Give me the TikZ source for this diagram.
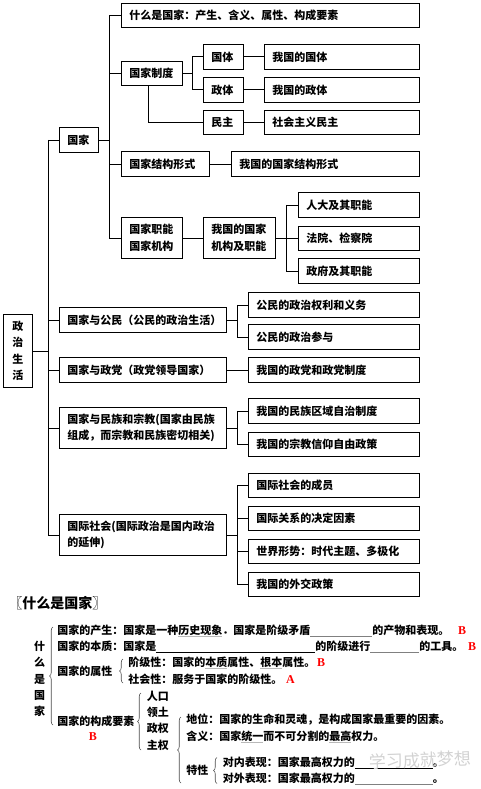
\documentclass[tikz,border=0pt]{standalone}
\usepackage{fontspec}
\newfontfamily\cjk{Noto Sans CJK SC}
\newfontfamily\lserif{Liberation Serif}
\usetikzlibrary{decorations.pathreplacing}
\newcommand\grayul[1]{\setbox0\hbox{#1}\rlap{\color{gray!55}\rule[-2.5pt]{\wd0}{0.7pt}}\box0}
\newcommand\blankln[2]{\rlap{\color{#2}\rule[-2.5pt]{#1}{0.6pt}}\hspace{#1}}
\begin{document}
\begin{tikzpicture}[x=1pt,y=-1pt,line width=0.8pt,
  box/.style={draw,anchor=north west,inner xsep=8pt,inner ysep=0pt,align=left,
    font=\cjk\bfseries\fontsize{11}{16.5}\selectfont},
  txt/.style={inner sep=0pt,anchor=west,font=\cjk\bfseries\fontsize{11}{16.3}\selectfont},
  grade/.style={inner sep=0pt,anchor=west,text=red,font=\lserif\bfseries\fontsize{12}{12}\selectfont},
  brc/.style={decorate,decoration={brace,amplitude=3.5pt},line width=0.6pt,draw=gray!60!black}]
\useasboundingbox (0,0) rectangle (481,789);
% ---------- boxes ----------
\node[box,text width=282pt,minimum height=24pt] (what) at (121,3) {什么是国家：产生、含义、属性、构成要素};
\node[box,text width=45pt,minimum height=24pt] (zhidu) at (121,61) {国家制度};
\node[box,text width=24pt,minimum height=25pt] (guoti) at (203,44) {国体};
\node[box,text width=24pt,minimum height=25pt] (zhengti) at (203,77) {政体};
\node[box,text width=24pt,minimum height=24pt] (minzhu) at (203,110) {民主};
\node[box,text width=139pt,minimum height=25pt] (wguoti) at (264,44) {我国的国体};
\node[box,text width=139pt,minimum height=25pt] (wzhengti) at (264,77) {我国的政体};
\node[box,text width=139pt,minimum height=24pt] (shmz) at (264,110) {社会主义民主};
\node[box,text width=23pt,minimum height=25pt] (guojia) at (59,127) {国家};
\node[box,text width=72pt,minimum height=25pt] (jiegou) at (121,151) {国家结构形式};
\node[box,text width=172pt,minimum height=25pt] (wjiegou) at (231,151) {我国的国家结构形式};
\node[box,text width=45pt,minimum height=41pt] (jineng) at (121,217) {国家职能\\国家机构};
\node[box,text width=56pt,minimum height=41pt] (wjigou) at (203,217) {我国的国家\\机构及职能};
\node[box,text width=105pt,minimum height=25pt] (renda) at (298,192) {人大及其职能};
\node[box,text width=105pt,minimum height=24pt] (fayuan) at (298,226) {法院、检察院};
\node[box,text width=105pt,minimum height=25pt] (zhengfu) at (298,258) {政府及其职能};
\node[box,text width=13pt,inner xsep=8pt,minimum height=73pt,align=center] (root) at (3,314) {政\\治\\生\\活};
\node[box,text width=151pt,minimum height=25pt] (gongmin) at (59,307) {国家与公民（公民的政治生活）};
\node[box,text width=155pt,minimum height=25pt] (quanli) at (248,292) {公民的政治权利和义务};
\node[box,text width=155pt,minimum height=25pt] (canyu) at (248,324) {公民的政治参与};
\node[box,text width=151pt,minimum height=25pt] (zhengdang) at (59,357) {国家与政党（政党领导国家）};
\node[box,text width=155pt,minimum height=25pt] (wzd) at (248,357) {我国的政党和政党制度};
\node[box,text width=151pt,minimum height=41pt] (minzu) at (59,407) {国家与民族和宗教(国家由民族\\组成，而宗教和民族密切相关)};
\node[box,text width=155pt,minimum height=25pt] (quyu) at (248,398) {我国的民族区域自治制度};
\node[box,text width=155pt,minimum height=24pt] (zongjiao) at (248,432) {我国的宗教信仰自由政策};
\node[box,text width=151pt,minimum height=41pt] (guoji) at (59,514) {国际社会(国际政治是国内政治\\的延伸)};
\node[box,text width=155pt,minimum height=24pt] (chengyuan) at (248,473) {国际社会的成员};
\node[box,text width=155pt,minimum height=24pt] (yinsu) at (248,506) {国际关系的决定因素};
\node[box,text width=155pt,minimum height=24pt] (xingshi) at (248,539) {世界形势：时代主题、多极化};
\node[box,text width=155pt,minimum height=24pt] (waijiao) at (248,572) {我国的外交政策};
% ---------- connectors ----------
\coordinate (v0) at (48,0);
\coordinate (v1) at (109,0);
\coordinate (vz) at (192,0);
\coordinate (vj) at (286,0);
\coordinate (vc) at (237,0);
% root
\draw (root.east) -- (root.east -| v0);
\draw (guojia.west -| v0) -- (guoji.west -| v0);
\foreach \n in {guojia,gongmin,zhengdang,minzu,guoji} \draw (\n.west -| v0) -- (\n.west);
% guojia
\draw (guojia.east) -- (guojia.east -| v1);
\draw (what.west -| v1) -- (jineng.west -| v1);
\foreach \n in {what,zhidu,jiegou,jineng} \draw (\n.west -| v1) -- (\n.west);
% zhidu
\draw (zhidu.east) -- (zhidu.east -| vz);
\draw (guoti.west -| vz) -- (zhengti.west -| vz);
\foreach \n in {guoti,zhengti} \draw (\n.west -| vz) -- (\n.west);
\draw ([xshift=-4pt]zhidu.south) |- (minzhu.west);
\draw (guoti.east) -- (wguoti.west);
\draw (zhengti.east) -- (wzhengti.west);
\draw (minzhu.east) -- (shmz.west);
\draw (jiegou.east) -- (wjiegou.west);
\draw (jineng.east) -- (wjigou.west);
\draw (wjigou.east) -- (wjigou.east -| vj);
\draw (renda.west -| vj) -- (zhengfu.west -| vj);
\foreach \n in {renda,fayuan,zhengfu} \draw (\n.west -| vj) -- (\n.west);
% gongmin
\draw (gongmin.east) -- (gongmin.east -| vc);
\draw (quanli.west -| vc) -- (canyu.west -| vc);
\foreach \n in {quanli,canyu} \draw (\n.west -| vc) -- (\n.west);
\draw (zhengdang.east) -- (wzd.west);
\draw (minzu.east) -- (minzu.east -| vc);
\draw (quyu.west -| vc) -- (zongjiao.west -| vc);
\foreach \n in {quyu,zongjiao} \draw (\n.west -| vc) -- (\n.west);
\draw (guoji.east) -- (guoji.east -| vc);
\draw (chengyuan.west -| vc) -- (waijiao.west -| vc);
\foreach \n in {chengyuan,yinsu,xingshi,waijiao} \draw (\n.west -| vc) -- (\n.west);
% ---------- lower section ----------
\node[txt,font=\cjk\bfseries\fontsize{14}{15}\selectfont] (title) at (8,603) {〖什么是国家〗};
\node[txt,anchor=center,align=center] (side) at (39.5,679) {什\\么\\是\\国\\家};
\draw[brc] (53,725) -- (53,627);
\node[txt] (l1) at (57,631) {国家的产生：国家是一种\grayul{历史现象}．国家是阶级矛盾\blankln{62pt}{gray}的产物和表现。};
\node[grade] (b1) at ([xshift=8pt]l1.east) {B};
\node[txt] (l2) at (57,647) {国家的本质：国家是\blankln{159pt}{black}的阶级进行\blankln{49pt}{gray}的工具。};
\node[grade] (b2) at ([xshift=4pt]l2.east) {B};
\node[txt] (l3) at (57,671) {国家的属性};
\draw[brc] (123,683) -- (123,659);
\node[txt] (l3a) at (128,662.5) {阶级性：国家的\grayul{本质}属性、\grayul{根本}属性。};
\node[grade] (b3) at ([xshift=1pt]l3a.east) {B};
\node[txt] (l3b) at (128,679.5) {社会性：服务于国家的阶级性。};
\node[grade] (a3) at ([xshift=3pt]l3b.east) {A};
\node[txt] (l4) at (57,721) {国家的构成要素};
\node[grade,anchor=center] (b4) at (93,737) {B};
\draw[brc] (141,750) -- (141,693);
\node[txt,align=left] (ys) at (146.5,720.5) {人口\\领土\\政权\\主权};
\draw[brc] (181,783) -- (181,717);
\node[txt] (dw) at (186,720) {地位：国家的生命和灵魂，是构成国家最重要的因素。};
\node[txt] (hy) at (186,737) {含义：国家\grayul{统一}而不可分割的\grayul{最高}权力。};
\node[txt] (tx) at (186,770) {特性};
\draw[brc] (217,783.5) -- (217,757.5);
\node[txt] (dn) at (222.5,762.5) {对内表现：国家最高权力的\blankln{78pt}{black}。};
\node[txt] (dwai) at (222.5,779) {对外表现：国家最高权力的\blankln{78pt}{gray}。};
\node[inner sep=0pt,text=gray!35,rotate=2,font=\cjk\fontsize{17}{17}\selectfont] (wm) at (420,760) {学习成就梦想};
\end{tikzpicture}
\end{document}
